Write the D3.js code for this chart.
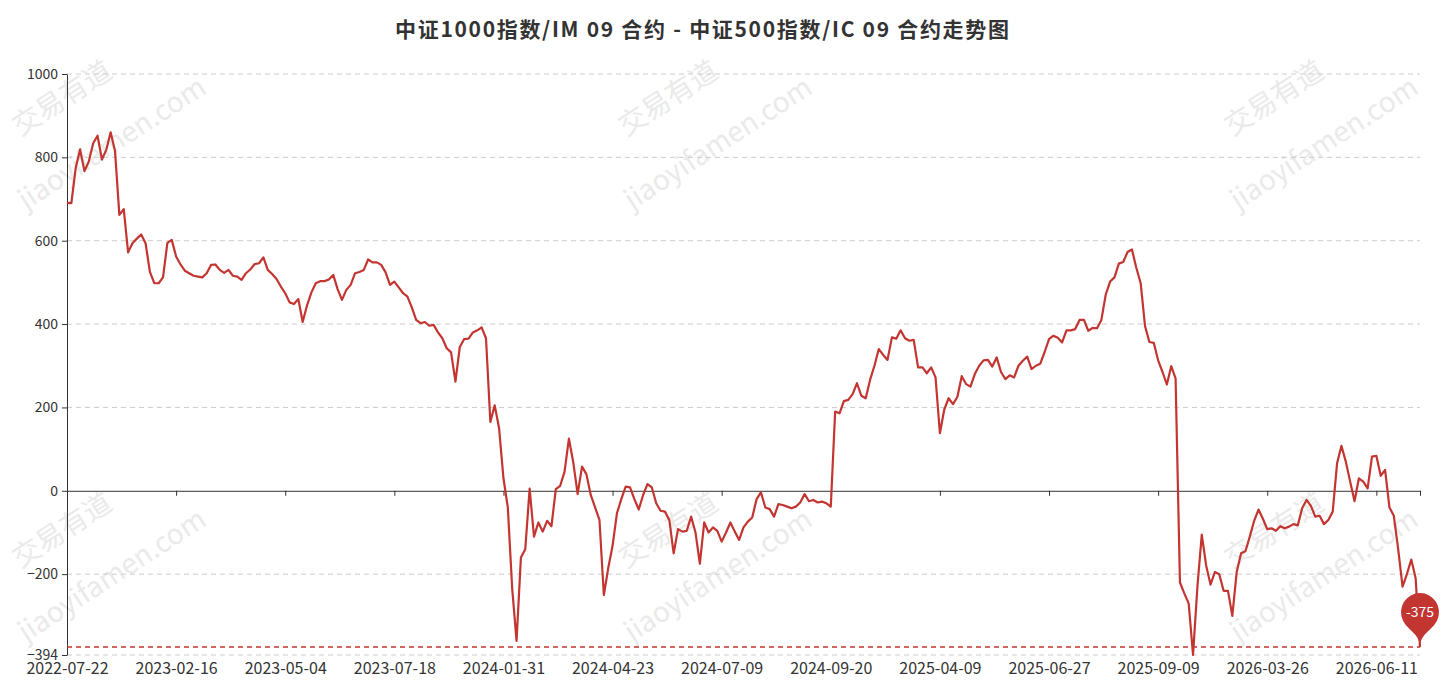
<!DOCTYPE html>
<html>
<head>
<meta charset="utf-8">
<script src="https://cdn.jsdelivr.net/npm/d3@7"></script>
<style>
  body { margin: 0; background: #fff; }
  svg { display: block; font-family: "Noto Sans CJK SC", "Microsoft YaHei", sans-serif; }
</style>
</head>
<body>
<div id="chart"></div>
<script>
// chart text
const chartTitle = "中证1000指数/IM 09 合约 - 中证500指数/IC 09 合约走势图";
const watermarkCn = "交易有道";
const watermarkEn = "jiaoyifamen.com";

// x axis labels, one every 25 points
const dateLabels = ["2022-07-22", "2023-02-16", "2023-05-04", "2023-07-18", "2024-01-31",
  "2024-04-23", "2024-07-09", "2024-09-20", "2025-04-09", "2025-06-27",
  "2025-09-09", "2026-03-26", "2026-06-11"];
const labelEvery = 25;

// y axis ticks (max is fixed, min is the series minimum)
const yTicks = [1000, 800, 600, 400, 200, 0, -200, -394];

// spread IM09 - IC09
const spread = [
  691, 690, 775, 819, 767, 790, 834, 852, 795, 818,
  860, 815, 662, 676, 572, 594, 605, 615, 594, 525,
  498, 498, 512, 595, 602, 562, 543, 528, 522, 516,
  514, 512, 522, 542, 543, 530, 523, 530, 516, 514,
  506, 522, 531, 544, 546, 560, 530, 520, 508, 490,
  474, 452, 448, 460, 405, 445, 476, 498, 503, 503,
  507, 518, 484, 458, 482, 494, 522, 525, 530, 555,
  548, 548, 542, 524, 494, 502, 488, 474, 466, 440,
  410, 402, 405, 396, 398, 380, 366, 342, 332, 262,
  345, 364, 365, 380, 385, 392, 366, 165, 205, 150,
  30, -40, -234, -360, -160, -140, 5, -110, -76, -98,
  -72, -85, 4, 12, 46, 125, 68, -8, 58, 40,
  -10, -40, -70, -250, -186, -132, -54, -20, 10, 8,
  -20, -45, -10, 16, 8, -30, -48, -50, -70, -150,
  -92, -98, -96, -62, -100, -175, -76, -100, -88, -96,
  -122, -100, -76, -98, -118, -88, -74, -64, -20, -4,
  -40, -44, -62, -32, -34, -38, -42, -38, -28, -8,
  -25, -22, -28, -26, -30, -38, 190, 186, 215, 218,
  232, 258, 228, 222, 266, 300, 340, 326, 314, 368,
  365, 385, 366, 360, 362, 296, 296, 282, 296, 272,
  138, 195, 222, 208, 225, 275, 256, 250, 280, 300,
  313, 314, 298, 320, 285, 268, 277, 272, 300, 312,
  322, 292, 300, 305, 333, 364, 372, 367, 356, 385,
  385, 388, 410, 410, 384, 391, 390, 410, 471, 502,
  512, 545, 549, 573, 579, 535, 498, 395, 357, 355,
  313, 285, 255, 299, 270, -220, -246, -270, -394, -230,
  -105, -179, -225, -195, -200, -240, -240, -300, -195, -150,
  -145, -110, -72, -45, -67, -92, -90, -96, -85, -90,
  -86, -80, -83, -42, -22, -36, -62, -60, -80, -70,
  -50, 66, 108, 70, 22, -25, 30, 22, 6, 82,
  84, 36, 50, -40, -60, -140, -230, -200, -165, -210,
  -375
];

const width = 1455;
const height = 690;
const margin = { top: 74, right: 35, bottom: 35, left: 67 };
const red = "#c23531";
const axisColor = "#333";

const svg = d3.select("#chart")
  .append("svg")
  .attr("width", width)
  .attr("height", height);

// Watermark tiles
const wm = svg.append("g").attr("class", "watermark");
const tiles = [];
[98, 530].forEach(ty => [62, 668, 1274].forEach(tx => tiles.push([tx, ty])));
tiles.forEach(([tx, ty]) => {
  wm.append("text")
    .attr("transform", `translate(${tx},${ty}) rotate(-33)`)
    .attr("text-anchor", "middle")
    .attr("dy", "0.35em")
    .style("font-size", "28px")
    .attr("fill", "#eaeaea")
    .text(watermarkCn);
  wm.append("text")
    .attr("transform", `translate(${tx + 50},${ty + 45}) rotate(-33)`)
    .attr("text-anchor", "middle")
    .attr("dy", "0.35em")
    .style("font-size", "28px")
    .attr("fill", "#eaeaea")
    .text(watermarkEn);
});

// Scales
const x = d3.scaleLinear()
  .domain([0, spread.length - 1])
  .range([margin.left, width - margin.right]);

const y = d3.scaleLinear()
  .domain([d3.min(spread), 1000])
  .range([height - margin.bottom, margin.top]);

// Title
svg.append("text")
  .attr("x", 395)
  .attr("y", 37)
  .attr("textLength", 614)
  .attr("lengthAdjust", "spacing")
  .style("font-size", "21px")
  .style("font-weight", "bold")
  .attr("fill", axisColor)
  .text(chartTitle);

// Dashed grid lines
svg.append("g")
  .selectAll("line")
  .data(yTicks.filter(d => d !== 0))
  .enter()
  .append("line")
  .attr("x1", x.range()[0])
  .attr("x2", x.range()[1])
  .attr("y1", d => y(d))
  .attr("y2", d => y(d))
  .attr("stroke", "#ccc")
  .attr("stroke-width", 1)
  .attr("stroke-dasharray", "5,4");

// Y axis
const yAxis = svg.append("g")
  .attr("transform", `translate(${margin.left},0)`)
  .call(d3.axisLeft(y).tickValues(yTicks).tickSize(5).tickPadding(4).tickSizeOuter(0)
    .tickFormat(d3.format("d")));
yAxis.select(".domain").attr("stroke", axisColor);
yAxis.selectAll(".tick line").attr("stroke", axisColor);
yAxis.selectAll(".tick text")
  .attr("fill", axisColor)
  .style("font-size", "14px")
  .style("font-family", "'Noto Sans CJK SC', sans-serif");

// X axis line on zero with ticks
const tickIdx = dateLabels.map((d, i) => i * labelEvery).concat([spread.length - 1]);
const xAxis = svg.append("g")
  .attr("transform", `translate(0,${y(0)})`)
  .call(d3.axisBottom(x).tickValues(tickIdx).tickSize(5).tickSizeOuter(0).tickFormat(""));
xAxis.select(".domain").attr("stroke", axisColor);
xAxis.selectAll(".tick line").attr("stroke", axisColor);

// X labels at the bottom
const xLabels = svg.append("g")
  .attr("transform", `translate(0,${height - margin.bottom})`)
  .call(d3.axisBottom(x)
    .tickValues(dateLabels.map((d, i) => i * labelEvery))
    .tickSize(0)
    .tickPadding(8)
    .tickFormat(i => dateLabels[i / labelEvery]));
xLabels.select(".domain").remove();
xLabels.selectAll(".tick text")
  .attr("fill", axisColor)
  .style("font-size", "16px")
  .style("font-family", "'Noto Sans CJK SC', sans-serif");

// Mark line at the last value
const last = spread[spread.length - 1];
svg.append("line")
  .attr("x1", x.range()[0])
  .attr("x2", x.range()[1])
  .attr("y1", y(last))
  .attr("y2", y(last))
  .attr("stroke", red)
  .attr("stroke-width", 1.5)
  .attr("stroke-dasharray", "5,4");

// Series line
const line = d3.line()
  .x((d, i) => x(i))
  .y(d => y(d));

svg.append("path")
  .datum(spread)
  .attr("fill", "none")
  .attr("stroke", red)
  .attr("stroke-width", 2.2)
  .attr("stroke-linejoin", "round")
  .attr("d", line);

// Pin marker on the last point
const pinPath = (px, tipY, r, dist) => {
  // dist: tip to circle centre
  const hr = (dist + Math.sqrt(dist * dist + 4 * r * r)) / 2;
  const dy = r * r / hr;
  const cy = tipY - dist;
  const ang = Math.asin(dy / r);
  const dx = Math.cos(ang) * r;
  const tanX = Math.sin(ang), tanY = Math.cos(ang);
  const cp1 = r * 0.6, cp2 = r * 0.7;
  const p = d3.path();
  p.moveTo(px - dx, cy + dy);
  p.arc(px, cy, r, Math.PI - ang, Math.PI * 2 + ang);
  p.bezierCurveTo(px + dx - tanX * cp1, cy + dy + tanY * cp1, px, tipY - cp2, px, tipY);
  p.bezierCurveTo(px, tipY - cp2, px - dx + tanX * cp1, cy + dy + tanY * cp1, px - dx, cy + dy);
  p.closePath();
  return p.toString();
};

const px = x(spread.length - 1);
const tipY = y(last);
svg.append("path")
  .attr("d", pinPath(px, tipY, 19, 35))
  .attr("fill", red);
svg.append("text")
  .attr("x", px)
  .attr("y", tipY - 35)
  .attr("dy", "0.35em")
  .attr("text-anchor", "middle")
  .attr("fill", "#fff")
  .style("font-size", "14px")
  .text(last);
</script>
</body>
</html>
